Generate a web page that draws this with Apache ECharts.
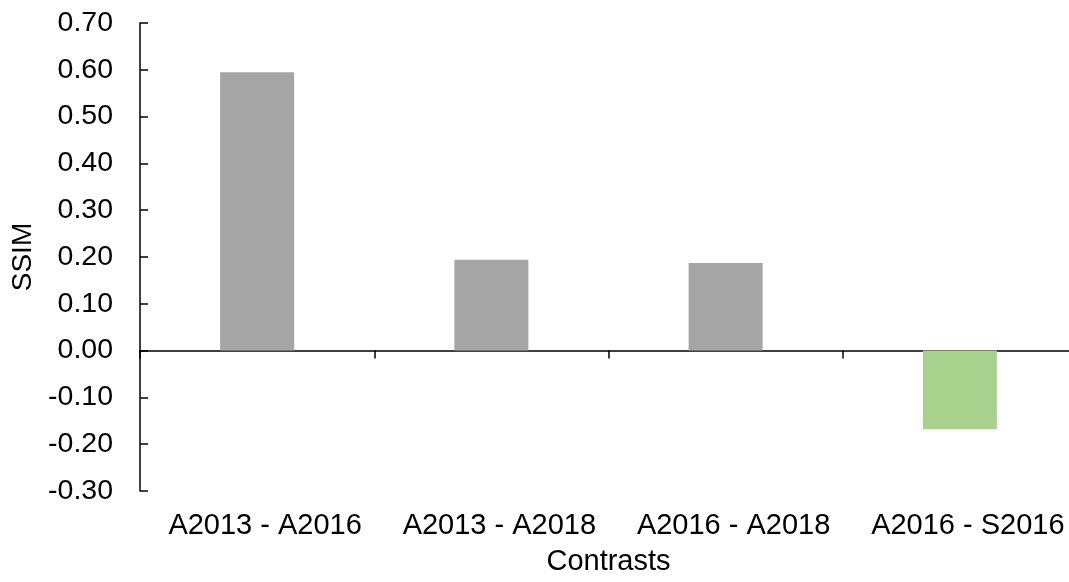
<!DOCTYPE html>
<html>
<head>
<meta charset="utf-8">
<script src="https://cdn.jsdelivr.net/npm/echarts@6/dist/echarts.min.js"></script>
<style>
  html, body { margin: 0; padding: 0; background: #fff; }
  #chart { width: 1069px; height: 582px; }
</style>
</head>
<body>
<div id="chart"></div>
<script>
const categories = ['A2013 - A2016', 'A2013 - A2018', 'A2016 - A2018', 'A2016 - S2016'];
const ssimValues = [0.595, 0.194, 0.187, -0.168];
const barColors = ['#a5a5a5', '#a5a5a5', '#a5a5a5', '#a9d18e'];

const chart = echarts.init(document.getElementById('chart'));
const font = 'Liberation Sans, Arial, sans-serif';

const option = {
  animation: false,
  grid: { left: 140, top: 23, width: 937, height: 468, outerBoundsMode: 'none', containLabel: false },
  xAxis: [
    {
      type: 'category',
      data: categories,
      axisLine: { onZero: true, lineStyle: { color: '#000', width: 1.5 } },
      axisTick: { show: true, length: 8, lineStyle: { color: '#000', width: 1.5 } },
      axisLabel: { show: false },
      splitLine: { show: false }
    },
    {
      // bottom axis only carries the category labels and the name
      type: 'category',
      data: categories,
      position: 'bottom',
      axisLine: { show: false, onZero: false },
      axisTick: { show: false },
      axisLabel: {
        show: true, interval: 0, margin: 20, padding: [0, 0, 0, 16],
        color: '#000', fontSize: 29, fontFamily: font
      },
      name: 'Contrasts',
      nameLocation: 'middle',
      nameGap: 56,
      nameTextStyle: { color: '#000', fontSize: 29, fontFamily: font }
    }
  ],
  yAxis: {
    type: 'value',
    min: -0.3,
    max: 0.7,
    interval: 0.1,
    name: 'SSIM',
    nameLocation: 'middle',
    nameGap: 103,
    nameTextStyle: { color: '#000', fontSize: 28, fontFamily: font },
    axisLine: { show: true, lineStyle: { color: '#000', width: 1.5 } },
    axisTick: { show: true, inside: true, length: 8, lineStyle: { color: '#000', width: 1.5 } },
    axisLabel: {
      margin: 27,
      color: '#000',
      fontSize: 28.5,
      fontFamily: font,
      formatter: v => v.toFixed(2)
    },
    splitLine: { show: false }
  },
  series: [{
    type: 'bar',
    xAxisIndex: 0,
    barWidth: 74,
    data: ssimValues.map((v, i) => ({ value: v, itemStyle: { color: barColors[i] } }))
  }]
};

chart.setOption(option);
</script>
</body>
</html>
